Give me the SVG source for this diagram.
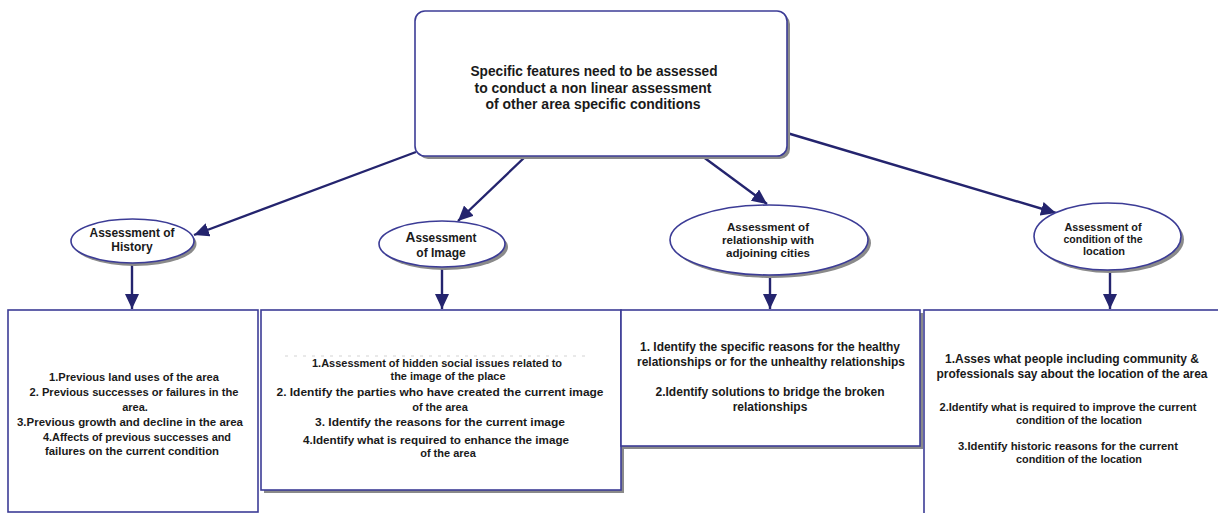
<svg xmlns="http://www.w3.org/2000/svg" width="1218" height="513" viewBox="0 0 1218 513">
<style>
.box{fill:#ffffff;stroke:#3c3c96;stroke-width:1.6}
.shd{fill:#8a8a8a;stroke:none}
.t{font-family:"Liberation Sans",Arial,sans-serif;font-weight:bold;fill:#1a1a1a;text-anchor:middle}
.s11{font-size:11px}
.s12{font-size:12px}
.s14{font-size:14px}
.con{stroke:#24246e;stroke-width:2.4;fill:none;marker-end:url(#ah)}
</style>
<defs>
<marker id="ah" markerUnits="userSpaceOnUse" markerWidth="16" markerHeight="14" refX="15" refY="7" orient="auto">
<path d="M0,0 L15,7 L0,14 z" fill="#24246e"/>
</marker>
</defs>
<rect width="1218" height="513" fill="#ffffff"/>

<g id="connectors">
<line class="con" x1="416" y1="152" x2="194" y2="235"/>
<line class="con" x1="526" y1="156" x2="458" y2="221"/>
<line class="con" x1="702" y1="156" x2="767" y2="204"/>
<line class="con" x1="787" y1="133" x2="1056" y2="213"/>
<line class="con" x1="132" y1="263" x2="132" y2="309"/>
<line class="con" x1="442" y1="267" x2="442" y2="309"/>
<line class="con" x1="770" y1="275" x2="770" y2="309"/>
<line class="con" x1="1110" y1="270" x2="1110" y2="309"/>
</g>

<g id="root">
<rect class="shd" x="418" y="14" width="372" height="145" rx="10"/>
<rect class="box" x="415" y="11" width="372" height="145" rx="10"/>
<text class="t s14" x="594" y="76" textLength="247" lengthAdjust="spacingAndGlyphs">Specific features need to be assessed</text>
<text class="t s14" x="593" y="93" textLength="237" lengthAdjust="spacingAndGlyphs">to conduct a non linear assessment</text>
<text class="t s14" x="593" y="109" textLength="215" lengthAdjust="spacingAndGlyphs">of other area specific conditions</text>
</g>

<g id="history">
<ellipse class="shd" cx="135" cy="244" rx="61.5" ry="22"/>
<ellipse class="box" cx="132.5" cy="241" rx="61.5" ry="22"/>
<text class="t s12" x="132" y="237" textLength="85" lengthAdjust="spacingAndGlyphs">Assessment of</text>
<text class="t s12" x="132" y="251">History</text>
</g>

<g id="image">
<ellipse class="shd" cx="445" cy="247" rx="63" ry="23"/>
<ellipse class="box" cx="442" cy="244" rx="63" ry="23"/>
<text class="t s12" x="441" y="242" textLength="71" lengthAdjust="spacingAndGlyphs"><tspan style="font-size:14px">A</tspan>ssessment</text>
<text class="t s12" x="441" y="257">of Image</text>
</g>

<g id="relationship">
<ellipse class="shd" cx="772" cy="243" rx="99" ry="35"/>
<ellipse class="box" cx="769" cy="240" rx="99" ry="35"/>
<text class="t s11" x="768" y="231" textLength="82" lengthAdjust="spacingAndGlyphs">Assessment of</text>
<text class="t s11" x="768" y="244" textLength="92" lengthAdjust="spacingAndGlyphs">relationship with</text>
<text class="t s11" x="768" y="257" textLength="84" lengthAdjust="spacingAndGlyphs">adjoining cities</text>
</g>

<g id="condition">
<ellipse class="shd" cx="1110.5" cy="239.5" rx="73.5" ry="33.5"/>
<ellipse class="box" cx="1107.5" cy="236.5" rx="73.5" ry="33.5"/>
<text class="t s11" x="1103" y="231" textLength="77" lengthAdjust="spacingAndGlyphs">Assessment of</text>
<text class="t s11" x="1103" y="243" textLength="79" lengthAdjust="spacingAndGlyphs">condition of the</text>
<text class="t s11" x="1104" y="255">location</text>
</g>

<g id="history-box">
<rect class="box" x="8" y="310" width="250" height="202"/>
<text class="t s11" x="134" y="381" textLength="170" lengthAdjust="spacingAndGlyphs">1.Previous land uses of the area</text>
<text class="t s11" x="134" y="396" textLength="209" lengthAdjust="spacingAndGlyphs">2. Previous successes or failures in the</text>
<text class="t s11" x="135" y="411">area.</text>
<text class="t s11" x="130" y="426" textLength="226" lengthAdjust="spacingAndGlyphs">3.Previous growth and decline in the area</text>
<text class="t s11" x="137" y="441" textLength="188" lengthAdjust="spacingAndGlyphs">4.Affects of previous successes and</text>
<text class="t s11" x="132" y="455" textLength="174" lengthAdjust="spacingAndGlyphs">failures on the current condition</text>
</g>

<g id="image-box">
<rect class="shd" x="264" y="313" width="360" height="180"/>
<rect class="box" x="261" y="310" width="360" height="180"/>
<line x1="285" y1="356" x2="585" y2="356" stroke="#c8c8c8" stroke-width="0.8" stroke-dasharray="3,6"/>
<text class="t s11" x="437" y="367" textLength="250" lengthAdjust="spacingAndGlyphs">1.Assessment of hidden social issues related to</text>
<text class="t s11" x="448" y="380" textLength="115" lengthAdjust="spacingAndGlyphs">the image of the place</text>
<text class="t s11" x="440" y="396" textLength="327" lengthAdjust="spacingAndGlyphs">2. Identify the parties who have created the current image</text>
<text class="t s11" x="440" y="411">of the area</text>
<text class="t s11" x="440" y="426" textLength="250" lengthAdjust="spacingAndGlyphs">3. Identify the reasons for the current image</text>
<text class="t s11" x="436" y="444" textLength="266" lengthAdjust="spacingAndGlyphs">4.Identify what is required to enhance the image</text>
<text class="t s11" x="448" y="457">of the area</text>
</g>

<g id="relationship-box">
<rect class="shd" x="624" y="313" width="299" height="136"/>
<rect class="box" x="621" y="310" width="299" height="136"/>
<text class="t s12" x="770" y="351" textLength="260" lengthAdjust="spacingAndGlyphs">1. Identify the specific reasons for the healthy</text>
<text class="t s12" x="771" y="366" textLength="268" lengthAdjust="spacingAndGlyphs">relationships or for the unhealthy relationships</text>
<text class="t s12" x="770" y="396" textLength="229" lengthAdjust="spacingAndGlyphs">2.Identify solutions to bridge the broken</text>
<text class="t s12" x="770" y="411">relationships</text>
</g>

<g id="condition-box">
<rect class="box" x="924" y="310" width="300" height="210"/>
<text class="t s12" x="1072" y="363" textLength="254" lengthAdjust="spacingAndGlyphs">1.Asses what people including community &amp;</text>
<text class="t s12" x="1072" y="378" textLength="271" lengthAdjust="spacingAndGlyphs">professionals say about the location of the area</text>
<text class="t s11" x="1068" y="411" textLength="257" lengthAdjust="spacingAndGlyphs">2.Identify what is required to improve the current</text>
<text class="t s11" x="1079" y="424" textLength="126" lengthAdjust="spacingAndGlyphs">condition of the location</text>
<text class="t s11" x="1068" y="450" textLength="220" lengthAdjust="spacingAndGlyphs">3.Identify historic reasons for the current</text>
<text class="t s11" x="1079" y="463" textLength="126" lengthAdjust="spacingAndGlyphs">condition of the location</text>
</g>
</svg>
